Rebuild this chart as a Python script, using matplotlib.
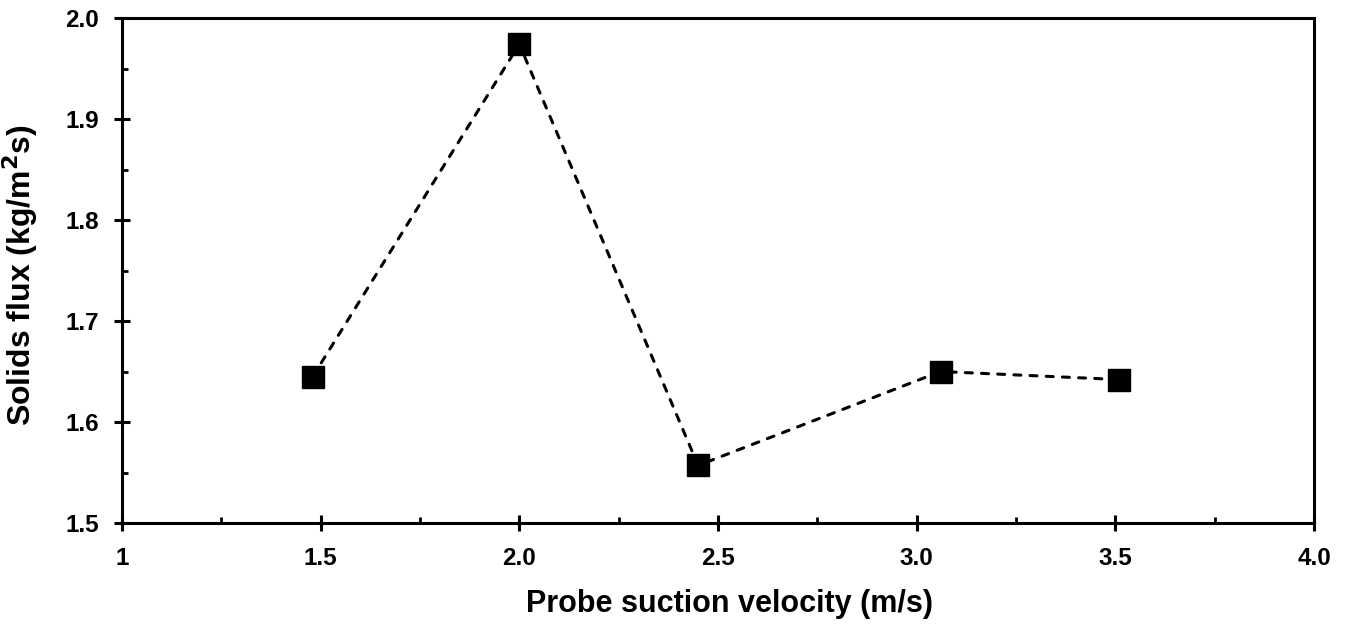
import matplotlib
matplotlib.use("Agg")
import matplotlib.pyplot as plt
from matplotlib.ticker import MultipleLocator, FixedLocator, FixedFormatter

plt.rcParams['font.family'] = ['Liberation Sans', 'DejaVu Sans']

velocity = [1.48, 2.0, 2.45, 3.06, 3.51]
flux = [1.645, 1.974, 1.557, 1.650, 1.642]
x_ticks = [1.0, 1.5, 2.0, 2.5, 3.0, 3.5, 4.0]
x_labels = ["1", "1.5", "2.0", "2.5", "3.0", "3.5", "4.0"]
y_ticks = [1.5, 1.6, 1.7, 1.8, 1.9, 2.0]
y_labels = ["1.5", "1.6", "1.7", "1.8", "1.9", "2.0"]

fig = plt.figure(figsize=(13.48, 6.24), dpi=100)
ax = fig.add_axes([122/1348, 1-523/624, (1314-122)/1348, (523-18)/624])

ax.plot(velocity, flux, color='black', linestyle=(0, (2.3, 3.0)), linewidth=2.2,
        dash_capstyle='round',
        marker='s', markersize=15.5, markerfacecolor='black', markeredgecolor='black',
        markeredgewidth=1.0)

ax.set_xlim(1, 4)
ax.set_ylim(1.5, 2.0)
ax.xaxis.set_major_locator(FixedLocator(x_ticks))
ax.xaxis.set_major_formatter(FixedFormatter(x_labels))
ax.yaxis.set_major_locator(FixedLocator(y_ticks))
ax.yaxis.set_major_formatter(FixedFormatter(y_labels))
ax.xaxis.set_minor_locator(MultipleLocator(0.25))
ax.yaxis.set_minor_locator(MultipleLocator(0.05))

for s in ax.spines.values():
    s.set_linewidth(2.2)

ax.tick_params(which='major', direction='inout', length=11, width=2.2, labelsize=17.5)
ax.tick_params(axis='x', which='major', pad=12)
ax.tick_params(axis='y', which='major', pad=11)
ax.tick_params(which='minor', direction='in', length=4.5, width=2.0)
for lab in ax.get_xticklabels() + ax.get_yticklabels():
    lab.set_fontweight('bold')

ax.set_xlabel("Probe suction velocity (m/s)", fontsize=22, fontweight='bold')
ax.set_ylabel("Solids flux (kg/m$^\\mathbf{2}$s)", fontsize=23, fontweight='bold')
ax.xaxis.set_label_coords(0.51, -0.13)
ax.yaxis.set_label_coords(-0.069, 0.49)

fig.savefig("out.png", dpi=100)
